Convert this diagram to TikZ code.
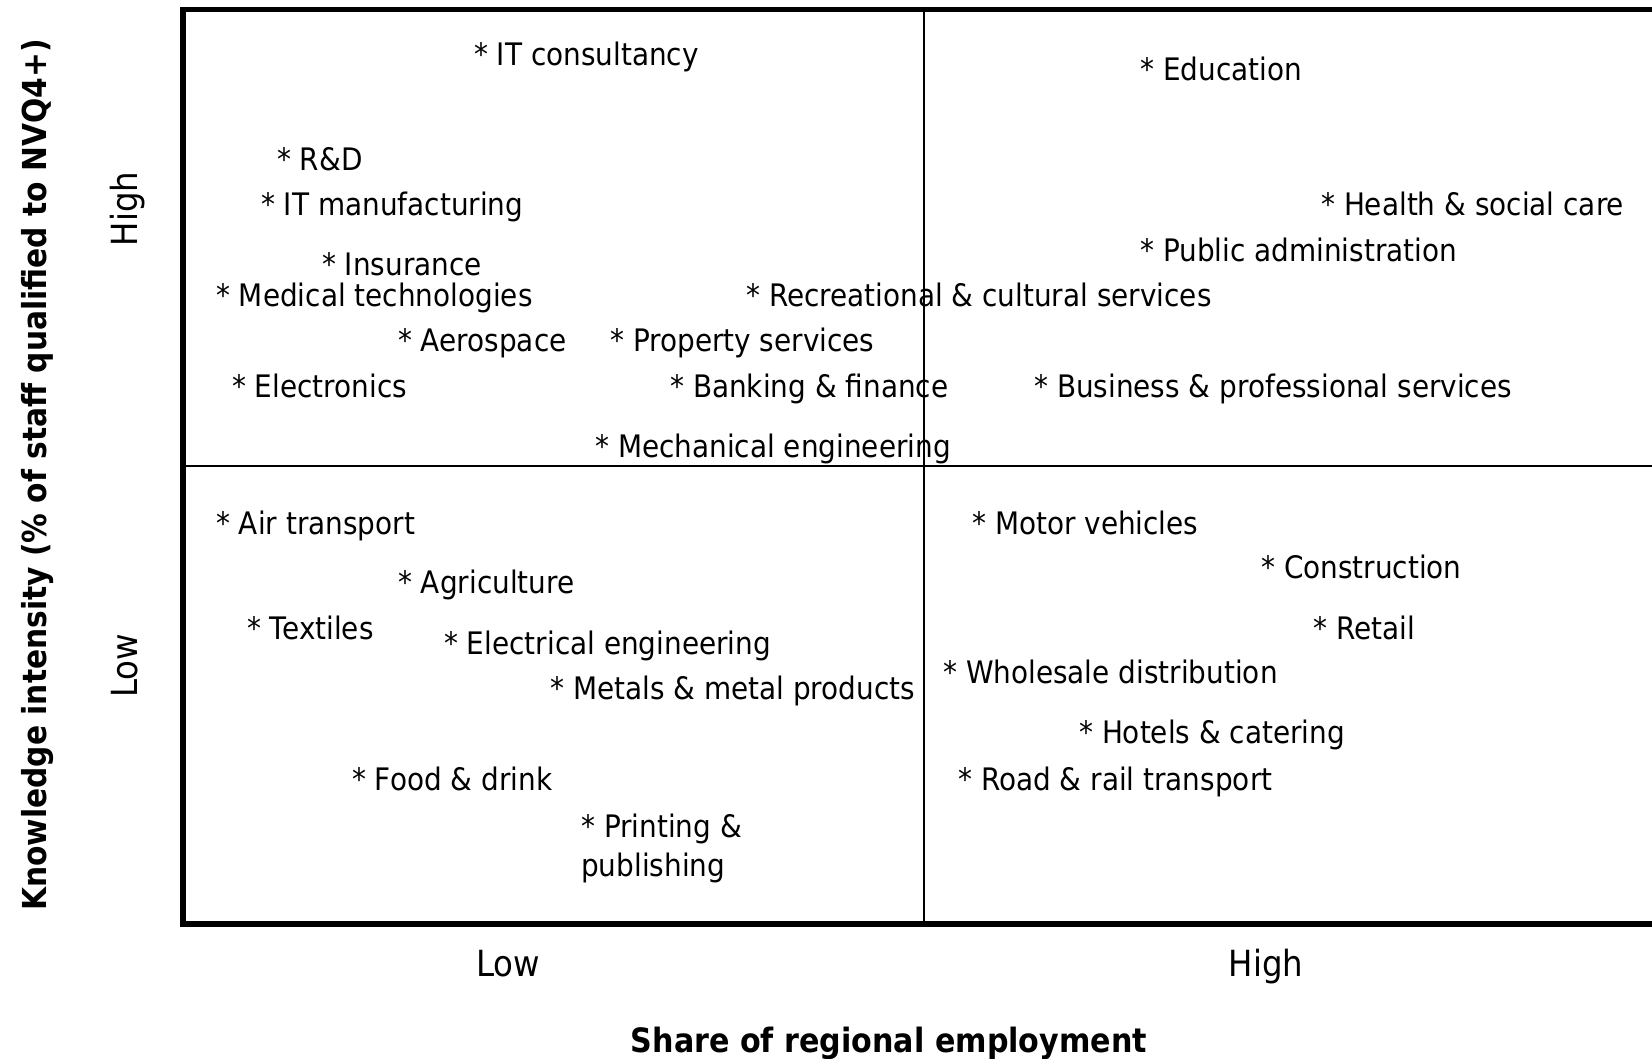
\documentclass[tikz,border=0pt]{standalone}
\usepackage{fontspec}
\setmainfont{DejaVu Sans}[FakeStretch=0.9]
\begin{document}
\begin{tikzpicture}
[x=1pt,y=-1pt,
sector/.style={anchor=west,inner sep=0pt,text height=0.72em,text depth=0pt,
font=\fontsize{31}{39}\selectfont},
level/.style={inner sep=0pt,text height=0.72em,text depth=0pt,
font=\fontsize{36}{43}\selectfont},
axistitle/.style={inner sep=0pt,text height=0.72em,text depth=0pt,
font=\bfseries\fontsize{33.5}{40}\selectfont},
frame/.style={line width=5.5pt},
divider/.style={line width=2pt}]
       \useasboundingbox (0,0) rectangle (1652,1058);
       \coordinate (tl) at (183,9.5);
       \coordinate (tr) at (1652,9.5);
       \coordinate (bl) at (183,924);
       \coordinate (br) at (1652,924);
       \coordinate (mt) at (924,9.5);
       \coordinate (mb) at (924,924);
       \coordinate (ml) at (183,466);
       \coordinate (mr) at (1652,466);
       \draw[divider] (mt) -- (mb);
       \draw[divider] (ml) -- (mr);
       \draw[frame] (tr) -- (tl) -- (bl) -- (br);
       % high knowledge, low share
       \node (itc) at (474,62) [sector] {* IT consultancy};
       \node (rnd) at (277,167) [sector] {* R\&D};
       \node (itm) at (261,212) [sector] {* IT manufacturing};
       \node (ins) at (322,272) [sector] {* Insurance};
       \node (med) at (216,303) [sector] {* Medical technologies};
       \node (rec) at (746,303) [sector] {* Recreational \& cultural services};
       \node (aer) at (398,348) [sector] {* Aerospace};
       \node (prop) at (610,348) [sector] {* Property services};
       \node (elc) at (232,394) [sector] {* Electronics};
       \node (bank) at (670,394) [sector] {* Banking \& finance};
       \node (mech) at (595,454) [sector] {* Mechanical engineering};
       % high knowledge, high share
       \node (edu) at (1140,77) [sector] {* Education};
       \node (hsc) at (1321,212) [sector] {* Health \& social care};
       \node (pub) at (1140,258) [sector] {* Public administration};
       \node (bps) at (1034,394) [sector] {* Business \& professional services};
       % low knowledge, low share
       \node (air) at (216,531) [sector] {* Air transport};
       \node (agr) at (398,590) [sector] {* Agriculture};
       \node (tex) at (247,636) [sector] {* Textiles};
       \node (eeng) at (444,651) [sector] {* Electrical engineering};
       \node (met) at (550,696) [sector] {* Metals \& metal products};
       \node (food) at (352,787) [sector] {* Food \& drink};
       \node (print) at (581,814) [sector,anchor=north west,align=left,text height=,text depth=] {* Printing \&\\publishing};
       % low knowledge, high share
       \node (mot) at (972,531) [sector] {* Motor vehicles};
       \node (con) at (1261,575) [sector] {* Construction};
       \node (ret) at (1313,636) [sector] {* Retail};
       \node (whl) at (943,680) [sector] {* Wholesale distribution};
       \node (hot) at (1079,740) [sector] {* Hotels \& catering};
       \node (road) at (958,787) [sector] {* Road \& rail transport};
       % axes
       \node (xlow) at (508,973) [level] {Low};
       \node (xhigh) at (1266,973) [level] {High};
       \node (yhigh) at (134,209) [level,rotate=90] {High};
       \node (ylow) at (134,666) [level,rotate=90] {Low};
       \node (xtitle) at (889,1049) [axistitle] {Share of regional employment};
       \node (ytitle) at (43,475) [axistitle,rotate=90,font=\bfseries\fontsize{33}{40}\selectfont] {Knowledge intensity (\% of staff qualified to NVQ4+)};
    \end{tikzpicture}
\end{document}
